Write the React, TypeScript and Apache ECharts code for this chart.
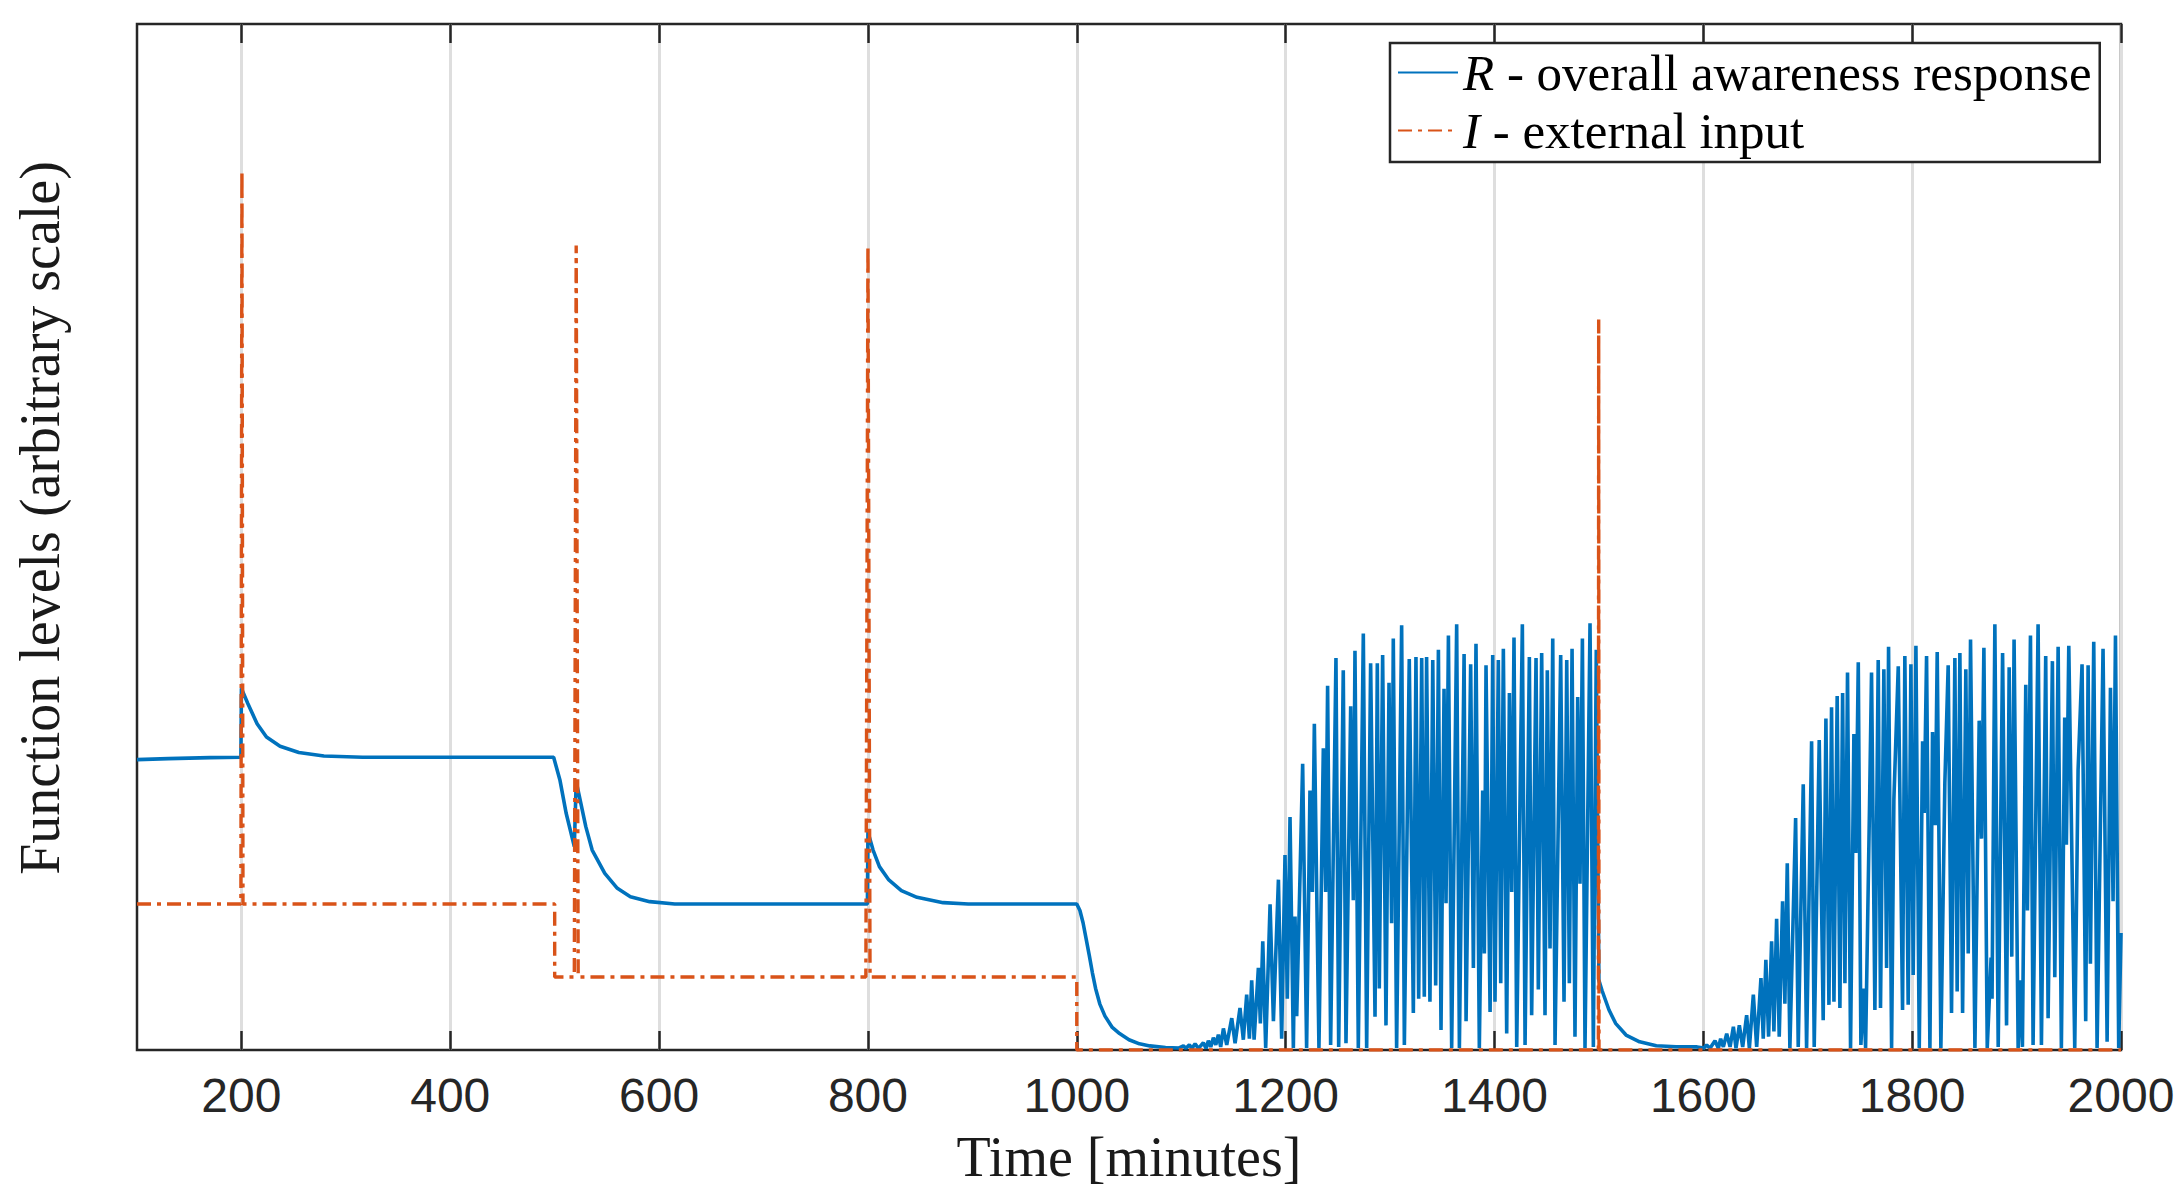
import React, { useEffect, useRef } from "react";
import * as echarts from "echarts";

// Tick values of the time axis (minutes)
const xTicks = [200, 400, 600, 800, 1000, 1200, 1400, 1600, 1800, 2000];

// R - overall awareness response: steady / relaxation part (minute, level)
const rSteady: number[][] = [
  [100, 0.283], [130, 0.284], [170, 0.285], [199.5, 0.2853],
  [200, 0.3525], [206, 0.338], [215, 0.318], [224, 0.305], [237, 0.296], [255, 0.29], [279, 0.2865], [316, 0.2853],
  [499, 0.2853], [505, 0.2632], [511, 0.2307], [518.8, 0.1982],
  [520.6, 0.2615], [523.7, 0.2469], [529.8, 0.2177], [535.9, 0.1949], [548, 0.1722], [560, 0.1576], [572.5, 0.1494],
  [591, 0.1446], [615, 0.1423], [799.5, 0.1423],
  [800, 0.2125], [804.9, 0.1949], [811, 0.1787], [820, 0.1657], [832, 0.1553], [847, 0.1488], [872, 0.1436], [896, 0.1423],
  [1000, 0.1423], [1003, 0.136], [1006, 0.124], [1009, 0.108], [1012, 0.092], [1015, 0.075], [1018, 0.06], [1022, 0.045],
  [1027, 0.033], [1034, 0.022], [1041, 0.016], [1050, 0.01], [1060, 0.006], [1070, 0.004], [1085, 0.0025], [1098, 0.002],
];

// R: first oscillating burst (1100 - 1500)
const rOsc1: number[][] = [
  [1102.1, 0.004], [1104.6, 0.0016], [1107.8, 0.005], [1110.4, 0.0016], [1113.3, 0.006], [1116.5, 0.0016],
  [1121.2, 0.007], [1123.8, 0.0016], [1126.0, 0.009], [1128.3, 0.003], [1130.8, 0.012], [1133.1, 0.005],
  [1135.6, 0.015], [1137.8, 0.003], [1140.4, 0.021], [1143.6, 0.005], [1148.4, 0.031], [1151.6, 0.0065],
  [1156.3, 0.041], [1159.5, 0.01], [1162.7, 0.054], [1165.3, 0.011], [1167.5, 0.068], [1169.8, 0.01],
  [1173.9, 0.08], [1175.8, 0.026], [1178.1, 0.106], [1180.9, 0.002], [1185.1, 0.142], [1188.3, 0.028],
  [1193.1, 0.166], [1196.2, 0.011], [1199.4, 0.19], [1201.6, 0.05], [1204.2, 0.227], [1207.4, 0.002],
  [1209.0, 0.13], [1210.6, 0.033], [1216.3, 0.279], [1220.1, 0.002], [1223.3, 0.253], [1225.6, 0.154],
  [1227.5, 0.318], [1231.9, 0.002], [1236.1, 0.294], [1238.3, 0.154], [1240.2, 0.355], [1243.1, 0.005],
  [1248.2, 0.382], [1250.8, 0.003], [1255.2, 0.37], [1257.8, 0.0065], [1262.3, 0.335], [1264.8, 0.146],
  [1266.4, 0.389], [1269.6, 0.002], [1274.4, 0.406], [1277.6, 0.002], [1281.4, 0.377], [1285.6, 0.0325],
  [1287.8, 0.377], [1289.7, 0.06], [1292.9, 0.385], [1296.1, 0.024], [1299.0, 0.358], [1301.5, 0.1235],
  [1303.1, 0.401], [1306.3, 0.002], [1311.1, 0.414], [1313.7, 0.005], [1318.4, 0.381], [1322.3, 0.036],
  [1324.8, 0.383], [1327.4, 0.05], [1330.3, 0.382], [1332.8, 0.052], [1335.0, 0.383], [1338.2, 0.047],
  [1340.9, 0.38], [1343.7, 0.063], [1346.3, 0.39], [1348.8, 0.0195], [1351.7, 0.352], [1353.6, 0.143],
  [1355.9, 0.404], [1359.0, 0.002], [1363.8, 0.415], [1366.4, 0.002], [1370.9, 0.386], [1372.8, 0.028],
  [1377.2, 0.376], [1379.8, 0.08], [1382.3, 0.396], [1385.5, 0.002], [1388.7, 0.253], [1390.3, 0.094],
  [1391.9, 0.375], [1395.8, 0.037], [1398.3, 0.385], [1400.5, 0.047], [1403.7, 0.38], [1406.0, 0.065],
  [1408.5, 0.391], [1411.7, 0.016], [1414.3, 0.348], [1416.5, 0.154], [1418.7, 0.402], [1421.3, 0.003],
  [1426.7, 0.415], [1429.3, 0.005], [1433.4, 0.383], [1435.6, 0.034], [1439.8, 0.382], [1442.0, 0.059],
  [1445.2, 0.387], [1448.4, 0.034], [1450.6, 0.37], [1453.2, 0.099], [1455.8, 0.401], [1458.0, 0.005],
  [1463.4, 0.385], [1466.6, 0.047], [1469.2, 0.38], [1471.7, 0.065], [1474.3, 0.391], [1477.1, 0.013],
  [1479.7, 0.344], [1481.9, 0.162], [1484.2, 0.401], [1486.7, 0.002], [1491.5, 0.416], [1494.7, 0.003],
  [1497.5, 0.39], [1500.0, 0.068],
];

// R: relaxation after the pulse at 1500
const rDecay: number[][] = [
  [1503, 0.058], [1509.7, 0.039], [1516, 0.026], [1526, 0.0146], [1539, 0.008], [1555, 0.0042], [1574, 0.0032],
  [1594, 0.003], [1600.5, 0.002],
];

// R: second oscillating burst (1600 - 2000)
const rOsc2: number[][] = [
  [1603.2, 0.0049], [1606.4, 0.0016], [1611.2, 0.009], [1614.4, 0.0016], [1616.6, 0.011], [1619.2, 0.003],
  [1622.4, 0.016], [1625.6, 0.003], [1628.8, 0.0227], [1631.3, 0.0016], [1634.5, 0.024], [1637.7, 0.003],
  [1641.5, 0.034], [1644.1, 0.0016], [1647.9, 0.054], [1651.1, 0.003], [1655.2, 0.07], [1657.4, 0.011],
  [1659.9, 0.088], [1662.5, 0.013], [1665.4, 0.106], [1667.6, 0.018], [1670.2, 0.128], [1672.7, 0.013],
  [1675.9, 0.145], [1678.1, 0.045], [1680.4, 0.182], [1682.9, 0.002], [1688.4, 0.226], [1690.9, 0.003],
  [1695.7, 0.259], [1698.9, 0.002], [1703.7, 0.301], [1706.2, 0.003], [1711.0, 0.302], [1714.8, 0.029],
  [1717.4, 0.323], [1720.3, 0.044], [1722.8, 0.334], [1725.1, 0.047], [1728.2, 0.345], [1730.8, 0.041],
  [1733.4, 0.348], [1735.6, 0.065], [1738.1, 0.368], [1741.0, 0.002], [1744.2, 0.308], [1746.1, 0.192],
  [1748.4, 0.378], [1750.9, 0.005], [1753.5, 0.06], [1755.4, 0.002], [1759.2, 0.24], [1761.1, 0.368],
  [1764.3, 0.039], [1767.5, 0.38], [1769.7, 0.041], [1772.9, 0.371], [1775.5, 0.08], [1777.4, 0.393],
  [1780.3, 0.002], [1782.5, 0.244], [1786.7, 0.374], [1790.8, 0.039], [1793.0, 0.384], [1796.2, 0.044],
  [1798.8, 0.376], [1801.0, 0.073], [1803.6, 0.394], [1806.8, 0.002], [1810.0, 0.301], [1811.5, 0.231],
  [1813.8, 0.384], [1817.0, 0.002], [1819.5, 0.31], [1822.1, 0.219], [1824.0, 0.388], [1827.5, 0.002],
  [1831.3, 0.26], [1834.5, 0.375], [1837.7, 0.036], [1840.9, 0.382], [1843.1, 0.057], [1845.7, 0.387],
  [1848.3, 0.036], [1851.4, 0.371], [1853.7, 0.094], [1855.9, 0.4], [1860.1, 0.002], [1864.2, 0.321],
  [1866.4, 0.206], [1868.7, 0.392], [1871.9, 0.002], [1875.6, 0.09], [1876.5, 0.05], [1879.2, 0.415],
  [1882.4, 0.003], [1886.6, 0.387], [1890.4, 0.024], [1892.9, 0.373], [1895.4, 0.091], [1897.6, 0.4],
  [1901.5, 0.002], [1903.7, 0.068], [1905.6, 0.003], [1908.8, 0.356], [1910.4, 0.136], [1913.3, 0.404],
  [1915.8, 0.005], [1920.6, 0.415], [1923.8, 0.005], [1927.9, 0.384], [1930.2, 0.031], [1934.3, 0.379],
  [1936.6, 0.071], [1939.8, 0.393], [1942.9, 0.002], [1946.1, 0.324], [1947.7, 0.2], [1950.0, 0.394],
  [1955.7, 0.002], [1958.9, 0.273], [1962.7, 0.376], [1966.2, 0.028], [1968.5, 0.375], [1970.7, 0.084],
  [1973.9, 0.398], [1977.1, 0.002], [1982.8, 0.391], [1986.7, 0.008], [1989.9, 0.353], [1992.4, 0.145],
  [1994.7, 0.404], [1997.8, 0.002], [2000, 0.114],
];

// I - external input (minute, level)
const iInput: number[][] = [
  [100, 0.1423], [199.5, 0.1423], [200.5, 0.857], [201.5, 0.1423],
  [500, 0.1423], [500, 0.0711], [518.8, 0.0711], [520.6, 0.784], [522.5, 0.0711],
  [798, 0.0711], [800, 0.784], [802, 0.0711], [1000, 0.0711], [1000, 0],
  [1499.5, 0], [1499.8, 0.712], [1500.1, 0], [2000, 0],
];

const seriesNames = ["R - overall awareness response", "I - external input"];

export default function App() {
  const ref = useRef<HTMLDivElement>(null);

  useEffect(() => {
    if (!ref.current) return;
    const chart = echarts.init(ref.current, null, { renderer: "svg" });
    const rData = [...rSteady, ...rOsc1, ...rDecay, ...rOsc2];
    const tick = {
      show: true,
      inside: true,
      length: 19,
      customValues: xTicks,
      lineStyle: { color: "#262626", width: 2.5 },
    };
    chart.setOption({
      animation: false,
      backgroundColor: "#ffffff",
      grid: {
        left: 137,
        right: 55,
        top: 24,
        bottom: 140,
        show: true,
        borderColor: "#262626",
        borderWidth: 2.5,
        backgroundColor: "transparent",
        containLabel: false,
        outerBoundsMode: "none",
      },
      xAxis: [
        {
          type: "value",
          min: 100,
          max: 2000,
          position: "bottom",
          axisLine: { show: false },
          axisTick: tick,
          axisLabel: {
            show: true,
            customValues: xTicks,
            formatter: (v: number) => String(v),
            fontSize: 48,
            fontFamily: "Liberation Sans",
            color: "#262626",
            margin: 21,
          },
          splitLine: { show: true, lineStyle: { color: "#dedede", width: 3 } },
          name: "Time [minutes]",
          nameLocation: "middle",
          nameGap: 79,
          nameTextStyle: { fontFamily: "Liberation Serif", fontSize: 56, color: "#1a1a1a" },
        },
        {
          type: "value",
          min: 100,
          max: 2000,
          position: "top",
          axisLine: { show: false },
          axisTick: tick,
          axisLabel: { show: false },
          splitLine: { show: false },
        },
      ],
      yAxis: {
        type: "value",
        min: 0,
        max: 1,
        axisLine: { show: false },
        axisTick: { show: false },
        axisLabel: { show: false },
        splitLine: { show: false },
      },
      legend: {
        orient: "vertical",
        left: 1390,
        top: 43,
        padding: [4, 8, 6, 7],
        itemGap: 7,
        itemWidth: 60,
        itemHeight: 14,
        backgroundColor: "#ffffff",
        borderColor: "#262626",
        borderWidth: 2.5,
        borderRadius: 0,
        selectedMode: false,
        data: seriesNames,
        itemStyle: { opacity: 0, borderWidth: 0 },
        formatter: (n: string) => `{it|${n.charAt(0)}}${n.slice(1)}`,
        textStyle: {
          fontFamily: "Liberation Serif",
          fontSize: 51,
          color: "#000000",
          lineHeight: 50,
          rich: {
            it: {
              fontFamily: "Liberation Serif",
              fontStyle: "italic",
              fontSize: 51,
              color: "#000000",
              lineHeight: 50,
            },
          },
        },
      },
      graphic: [
        {
          type: "text",
          x: 40,
          y: 518,
          rotation: Math.PI / 2,
          style: {
            text: "Function levels (arbitrary scale)",
            fontFamily: "Liberation Serif",
            fontSize: 56,
            fill: "#1a1a1a",
            align: "center",
            verticalAlign: "middle",
          },
        },
      ],
      series: [
        {
          name: seriesNames[0],
          type: "line",
          data: rData,
          showSymbol: false,
          symbol: "none",
          itemStyle: { color: "#0072BD" },
          lineStyle: { color: "#0072BD", width: 3.6 },
          z: 2,
        },
        {
          name: seriesNames[1],
          type: "line",
          data: iInput,
          showSymbol: false,
          symbol: "none",
          itemStyle: { color: "#D95319" },
          lineStyle: { color: "#D95319", width: 3.4, type: [14, 6, 4, 6] },
          z: 3,
        },
      ],
    });
    return () => chart.dispose();
  }, []);

  return (
    <div
      ref={ref}
      style={{ position: "fixed", left: 0, top: 0, width: 2176, height: 1190, background: "#ffffff" }}
    />
  );
}
